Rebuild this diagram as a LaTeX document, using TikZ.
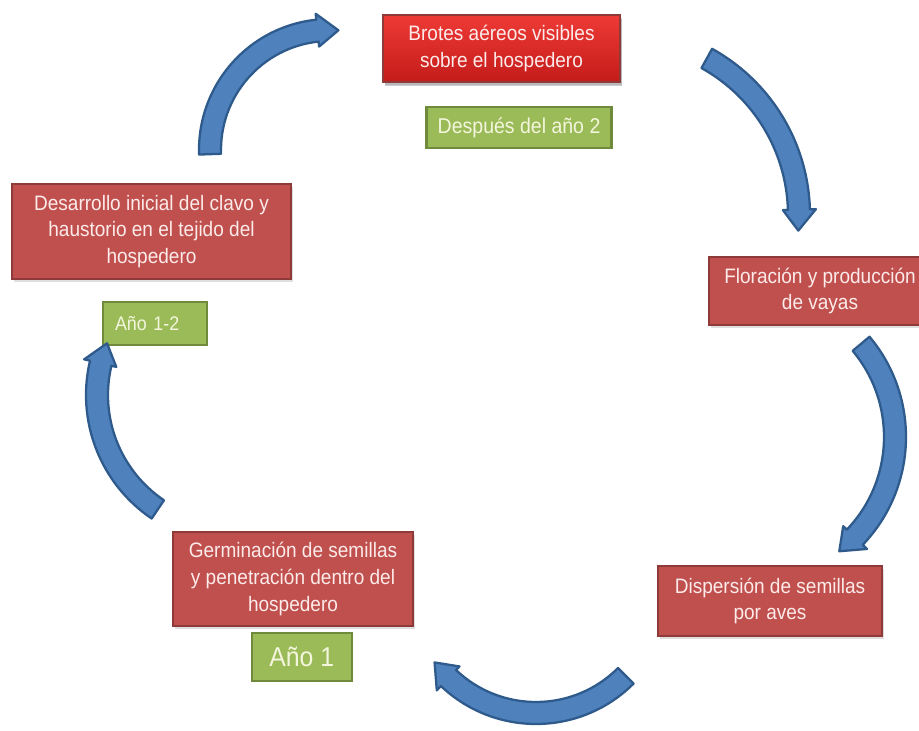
\documentclass[tikz,border=0pt]{standalone}
\usepackage{fontspec}
\setmainfont{Liberation Sans}[FakeStretch=0.91]
\usetikzlibrary{positioning,shadows}
\definecolor{stagered}{HTML}{C0504D}
\definecolor{stageline}{HTML}{8E3A38}
\definecolor{stagetext}{HTML}{FCEBEA}
\definecolor{shoottop}{HTML}{EE3A36}
\definecolor{shootbottom}{HTML}{C41C1A}
\definecolor{periodgreen}{HTML}{9BBB59}
\definecolor{periodline}{HTML}{6F8A3A}
\definecolor{periodtext}{HTML}{F3F6DC}
\definecolor{arrowblue}{HTML}{4F81BD}
\definecolor{arrowline}{HTML}{2F5A8C}
\tikzset{
  stage/.style = {draw=stageline, line width=1.3pt, fill=stagered, text=stagetext,
    align=center, inner sep=2pt, font=\fontsize{11.9}{15.3}\selectfont,
    drop shadow={opacity=0.25, shadow xshift=1pt, shadow yshift=-1.5pt}},
  period/.style = {draw=periodline, line width=1.3pt, fill=periodgreen, text=periodtext,
    inner sep=2pt, font=\fontsize{12.2}{14}\selectfont},
  bluearc/.style = {draw=arrowline, fill=arrowblue, line width=1.3pt, line join=round}
}
% curved block arrow: centre x, centre y, radius, tail angle, tip angle (clockwise)
\newcommand{\blockarc}[5]{%
  \pgfmathsetmacro{\hb}{#5+1200/#3}%
  \pgfmathsetmacro{\ro}{#3+11}\pgfmathsetmacro{\ri}{#3-11}%
  \pgfmathsetmacro{\ho}{#3+17}\pgfmathsetmacro{\hi}{#3-16}%
  \draw[bluearc] ([shift={(#4:\ro)}]#1,#2) arc[start angle=#4, end angle=\hb, radius=\ro]
    -- ([shift={(\hb:\ho)}]#1,#2) -- ([shift={(#5:#3)}]#1,#2) -- ([shift={(\hb:\hi)}]#1,#2)
    -- ([shift={(\hb:\ri)}]#1,#2) arc[start angle=\hb, end angle=#4, radius=\ri] -- cycle;
}

\begin{document}
\begin{tikzpicture}[x=0.02cm, y=0.02cm]
  \useasboundingbox (0,0) rectangle (919,730);
  % stages of the cycle
  \node[stage, minimum width=4.74cm, minimum height=1.34cm, top color=shoottop,
    bottom color=shootbottom, drop shadow={opacity=0.4, shadow xshift=1pt, shadow yshift=-2.5pt}]
    (brotes) at (501.5,681.5) {Brotes aéreos visibles\\sobre el hospedero};
  \node[stage, minimum width=4.44cm, minimum height=1.36cm] (floracion) at (820,439)
    {Floración y producción\\de vayas};
  \node[stage, minimum width=4.48cm, minimum height=1.4cm] (dispersion) at (770,129)
    {Dispersión de semillas\\por aves};
  \node[stage, minimum width=4.8cm, minimum height=1.88cm] (germinacion) at (293,151)
    {Germinación de semillas\\y penetración dentro del\\hospedero};
  \node[stage, minimum width=5.58cm, minimum height=1.9cm] (desarrollo) at (151.5,498.5)
    {Desarrollo inicial del clavo y\\haustorio en el tejido del\\hospedero};
  % time labels
  \node[period, minimum width=3.7cm, minimum height=0.82cm, below=13pt of brotes, xshift=10pt]
    (despues) {Después del año 2};
  \node[period, minimum height=0.86cm, inner xsep=0.24cm, text width=1.6cm, align=left,
    below=12pt of desarrollo, xshift=2pt, font=\fontsize{11.2}{13}\selectfont] (ano12) {Año 1-2};
  \node[period, minimum width=2cm, minimum height=0.96cm, below=2.5pt of germinacion, xshift=5pt,
    font=\fontsize{15.5}{17}\selectfont] (ano1) {Año 1};
  % arrows
  \blockarc{330}{580}{120}{182}{86}
  \blockarc{620}{515}{179}{61}{-5}
  \blockarc{750}{293}{145}{40}{-52}
  \blockarc{536}{144}{127}{-45}{-143}
  \blockarc{235}{335}{138}{236}{158}
\end{tikzpicture}
\end{document}
